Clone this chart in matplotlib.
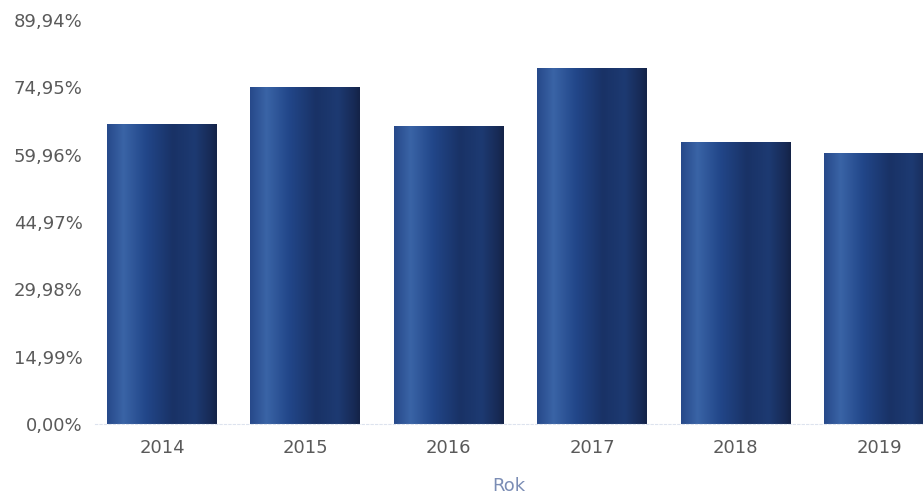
import numpy as np
import matplotlib.pyplot as plt
from matplotlib.colors import LinearSegmentedColormap

years = ["2014", "2015", "2016", "2017", "2018", "2019"]
values = [66.8, 75.0, 66.3, 79.3, 62.8, 60.3]
yticks = [0.0, 14.99, 29.98, 44.97, 59.96, 74.95, 89.94]

# cylinder-like shading across each bar
shade = LinearSegmentedColormap.from_list("shade", [
    (0.00, "#27498a"),
    (0.15, "#3a64a6"),
    (0.35, "#22478a"),
    (0.60, "#193266"),
    (0.80, "#1d3a72"),
    (0.95, "#172a55"),
    (1.00, "#142347"),
])

fig = plt.figure(figsize=(9.23, 4.99), dpi=100)
ax = fig.add_axes([95 / 923, 75 / 499, 1 - 95 / 923, 404 / 499])

x = np.arange(len(years))
width = 0.767
bars = ax.bar(x, values, width=width, color="none", edgecolor="none")
grad = np.linspace(0, 1, 256).reshape(1, -1)
for b in bars:
    x0, y0 = b.get_x(), b.get_y()
    im = ax.imshow(grad, cmap=shade, aspect="auto",
                   extent=[x0, x0 + b.get_width(), y0, y0 + b.get_height()],
                   interpolation="bicubic", zorder=2)
    im.set_clip_path(b)

ax.set_xlim(-0.467, 5.307)
ax.set_ylim(0, 89.94)
ax.set_yticks(yticks)
ax.set_yticklabels([f"{v:.2f}%".replace(".", ",") for v in yticks])
ax.set_xticks(x)
ax.set_xticklabels(years)

for s in ["top", "right", "left"]:
    ax.spines[s].set_visible(False)
ax.spines["bottom"].set_color("#dde3ee")
ax.spines["bottom"].set_linestyle((0, (2, 2)))
ax.tick_params(axis="both", length=0, labelsize=13, colors="#5a5a5a")
ax.tick_params(axis="y", pad=9)
ax.tick_params(axis="x", pad=11)

ax.set_xlabel("Rok", color="#7b8db5", fontsize=13, labelpad=14)

fig.savefig("out.png", dpi=100)
